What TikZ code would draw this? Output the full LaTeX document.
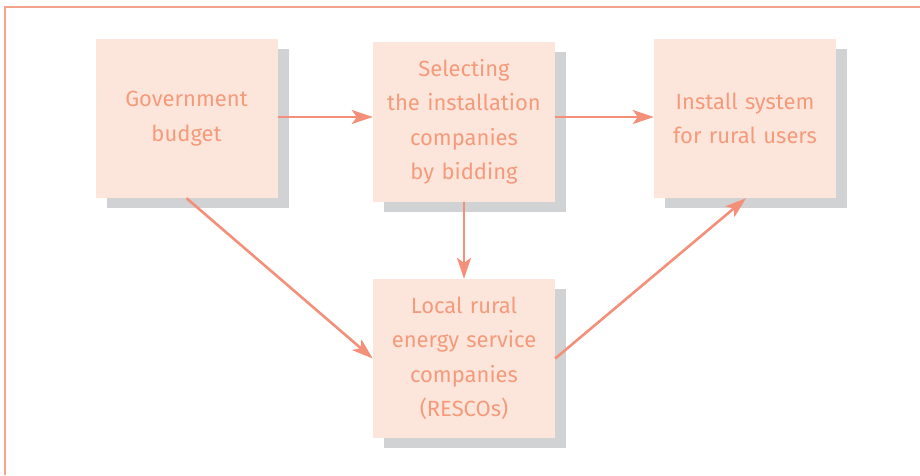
\documentclass[tikz,border=0pt]{standalone}
\usepackage{fontspec}
\setmainfont{Fira Sans}
\usetikzlibrary{arrows.meta,shadows}
\definecolor{boxfill}{HTML}{FCE6DB}
\definecolor{txtc}{HTML}{F59A7B}
\definecolor{arrc}{HTML}{F4907A}
\definecolor{shadc}{HTML}{D1D2D4}
\definecolor{framec}{HTML}{F4A48C}
\tikzset{
  stepbox/.style={rectangle, fill=boxfill, text=txtc, minimum width=182pt, minimum height=159pt,
    inner sep=0pt, align=center, text width=178pt,
    font=\fontsize{22pt}{34.5pt}\selectfont,
    general shadow={fill=shadc, shadow xshift=11pt, shadow yshift=-10pt}},
  flow/.style={draw=arrc, line width=2.6pt, -{Stealth[length=21pt,width=14pt,inset=5pt]}}
}
\begin{document}
\begin{tikzpicture}[x=1pt,y=-1pt]
\useasboundingbox (0,0) rectangle (920,475);
\draw[framec, line width=1.5pt] (5,475) -- (5,7) -- (920,7);
\node[stepbox] (b1) at (186.5,118.5) {\raisebox{3pt}{\parbox{178pt}{\centering Government\\budget}}};
\node[stepbox, minimum height=160pt] (b2) at (464,122) {Selecting\\the installation\\companies\\by bidding};
\node[stepbox] (b3) at (745,118.5) {\raisebox{3pt}{\parbox{178pt}{\centering Install system\\for rural users}}};
\node[stepbox] (b4) at (464,358.5) {Local rural\\energy service\\companies\\(RESCOs)};
\coordinate (a1) at (277,117);
\coordinate (a2) at (373,117);
\draw[flow] (b1.east |- a1) -- (b2.west |- a2);
\draw[flow] (b2.east |- a1) -- (b3.west |- a2);
\draw[flow] (b2.south) -- (b4.north);
\draw[flow] (b1.south) -- (b4.west);
\draw[flow] (b4.east) -- ([xshift=1pt]b3.south);
\end{tikzpicture}
\end{document}
